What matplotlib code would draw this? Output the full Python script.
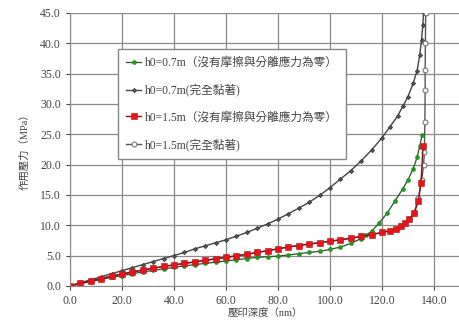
import matplotlib
matplotlib.use('Agg')
import matplotlib.pyplot as plt
from matplotlib.ticker import FormatStrFormatter

# depth (nm) vs. contact pressure (MPa)
x_07_full = [0, 4, 8, 12, 16, 20, 24, 28, 32, 36, 40, 44, 48, 52, 56, 60, 64, 68, 72, 76,
             80, 84, 88, 92, 96, 100, 104, 108, 112, 116, 120, 123, 126, 128, 130, 132,
             133.5, 134.5, 135.2, 135.7, 136.0]
y_07_full = [0.0, 0.5, 1.0, 1.5, 2.0, 2.5, 3.0, 3.5, 4.0, 4.5, 5.0, 5.5, 6.1, 6.6, 7.1, 7.6,
             8.2, 8.8, 9.5, 10.2, 11.0, 11.9, 12.8, 13.8, 14.9, 16.2, 17.6, 19.0, 20.6,
             22.4, 24.4, 26.2, 28.0, 29.6, 31.2, 33.4, 35.5, 38.0, 40.5, 43.0, 45.0]

x_07_free = [0, 4, 8, 12, 16, 20, 24, 28, 32, 36, 40, 44, 48, 52, 56, 60, 64, 68, 72, 76,
             80, 84, 88, 92, 96, 100, 104, 108, 112, 114, 116, 119, 122, 125, 128, 130,
             132, 133.5, 134.5, 135.4]
y_07_free = [0.0, 0.35, 0.7, 1.05, 1.4, 1.7, 2.0, 2.3, 2.55, 2.8, 3.05, 3.3, 3.5, 3.7, 3.9,
             4.1, 4.3, 4.5, 4.7, 4.8, 4.9, 5.1, 5.3, 5.5, 5.7, 6.0, 6.4, 7.0, 7.8, 8.4,
             9.0, 10.4, 12.0, 14.0, 16.0, 17.5, 19.3, 21.2, 23.0, 24.8]

x_15_free = [0, 4, 8, 12, 16, 20, 24, 28, 32, 36, 40, 44, 48, 52, 56, 60, 64, 68, 72, 76,
             80, 84, 88, 92, 96, 100, 104, 108, 112, 116, 120, 123, 125.4, 127.5, 129,
             130.5, 132.4, 134, 135, 135.8]
y_15_free = [0.0, 0.4, 0.8, 1.2, 1.6, 1.95, 2.3, 2.6, 2.9, 3.2, 3.45, 3.7, 3.95, 4.2, 4.45,
             4.7, 4.95, 5.2, 5.5, 5.8, 6.1, 6.4, 6.65, 6.9, 7.1, 7.35, 7.6, 7.85, 8.15,
             8.45, 8.8, 9.1, 9.4, 9.9, 10.4, 11.0, 12.0, 14.0, 17.0, 23.1]

x_15_full = [0, 4, 8, 12, 16, 20, 24, 28, 32, 36, 40, 44, 48, 52, 56, 60, 64, 68, 72, 76,
             80, 84, 88, 92, 96, 100, 104, 108, 112, 116, 120, 123, 125.4, 127.5, 129,
             130.5, 132.4, 134, 135.3, 136.0, 136.3, 136.5, 136.6, 136.6, 136.7, 136.8]
y_15_full = [0.0, 0.4, 0.8, 1.2, 1.6, 1.95, 2.3, 2.6, 2.9, 3.2, 3.45, 3.7, 3.95, 4.2, 4.45,
             4.7, 4.95, 5.2, 5.5, 5.8, 6.1, 6.4, 6.65, 6.9, 7.1, 7.35, 7.6, 7.85, 8.15,
             8.45, 8.8, 9.1, 9.4, 9.9, 10.4, 11.0, 12.0, 14.5, 17.5, 20.0, 22.0, 27.0,
             32.3, 35.6, 40.0, 45.0]

labels = ['h0=0.7m（沒有摩擦與分離應力為零）',
          'h0=0.7m(完全黏著)',
          'h0=1.5m（沒有摩擦與分離應力為零）',
          'h0=1.5m(完全黏著)']

x_ticks = [0, 20, 40, 60, 80, 100, 120, 140]
y_ticks = [0, 5, 10, 15, 20, 25, 30, 35, 40, 45]

fonts = ['Liberation Serif', 'Noto Sans CJK TC']
plt.rcParams['font.family'] = fonts

fig = plt.figure(figsize=(4.6, 3.32), dpi=100)
ax = fig.add_axes([0.152, 0.139, 0.848, 0.822])

l2, = ax.plot(x_07_full, y_07_full, '-', color='#444444', lw=1.0,
              marker='D', ms=2.2, mfc='#555555', mec='#333333', mew=0.5)
l4, = ax.plot(x_15_full, y_15_full, '-', color='#555555', lw=1.0,
              marker='o', ms=3.5, mfc='white', mec='#777777', mew=0.8)
l1, = ax.plot(x_07_free, y_07_free, '-', color='#225522', lw=0.9,
              marker='o', ms=3.0, mfc='#1f9a1f', mec='#1f8a1f', mew=0.3)
l3, = ax.plot(x_15_free, y_15_free, '-', color='#8b1010', lw=1.0,
              marker='s', ms=4.2, mfc='#e8141c', mec='#b51818', mew=0.4)

ax.set_xlim(0, 150)
ax.set_ylim(0, 45)
ax.set_xticks(x_ticks)
ax.set_yticks(y_ticks)
ax.xaxis.set_major_formatter(FormatStrFormatter('%.1f'))
ax.yaxis.set_major_formatter(FormatStrFormatter('%.1f'))
ax.tick_params(labelsize=8.5, colors='#444444', length=3, width=0.8)
ax.grid(True, color='#8a8a8a', lw=0.9)
ax.set_axisbelow(True)
for side in ['top', 'right']:
    ax.spines[side].set_visible(False)
for side in ['left', 'bottom']:
    ax.spines[side].set_color('#888888')

ax.set_xlabel('壓印深度（nm）', fontsize=7.5, color='#444444', labelpad=1)
ax.set_ylabel('作用壓力（MPa）', fontsize=7.5, color='#444444', labelpad=8)

leg = ax.legend([l1, l2, l3, l4], labels, loc='upper left',
                bbox_to_anchor=(0.123, 0.868), fontsize=8.4, labelspacing=1.25,
                handlelength=1.3, handletextpad=0.3, borderpad=0.7,
                borderaxespad=0, fancybox=False, framealpha=1,
                edgecolor='#888888')
leg.get_frame().set_linewidth(1.0)
for t in leg.get_texts():
    t.set_color('#444444')

fig.savefig('out.png', dpi=100)
